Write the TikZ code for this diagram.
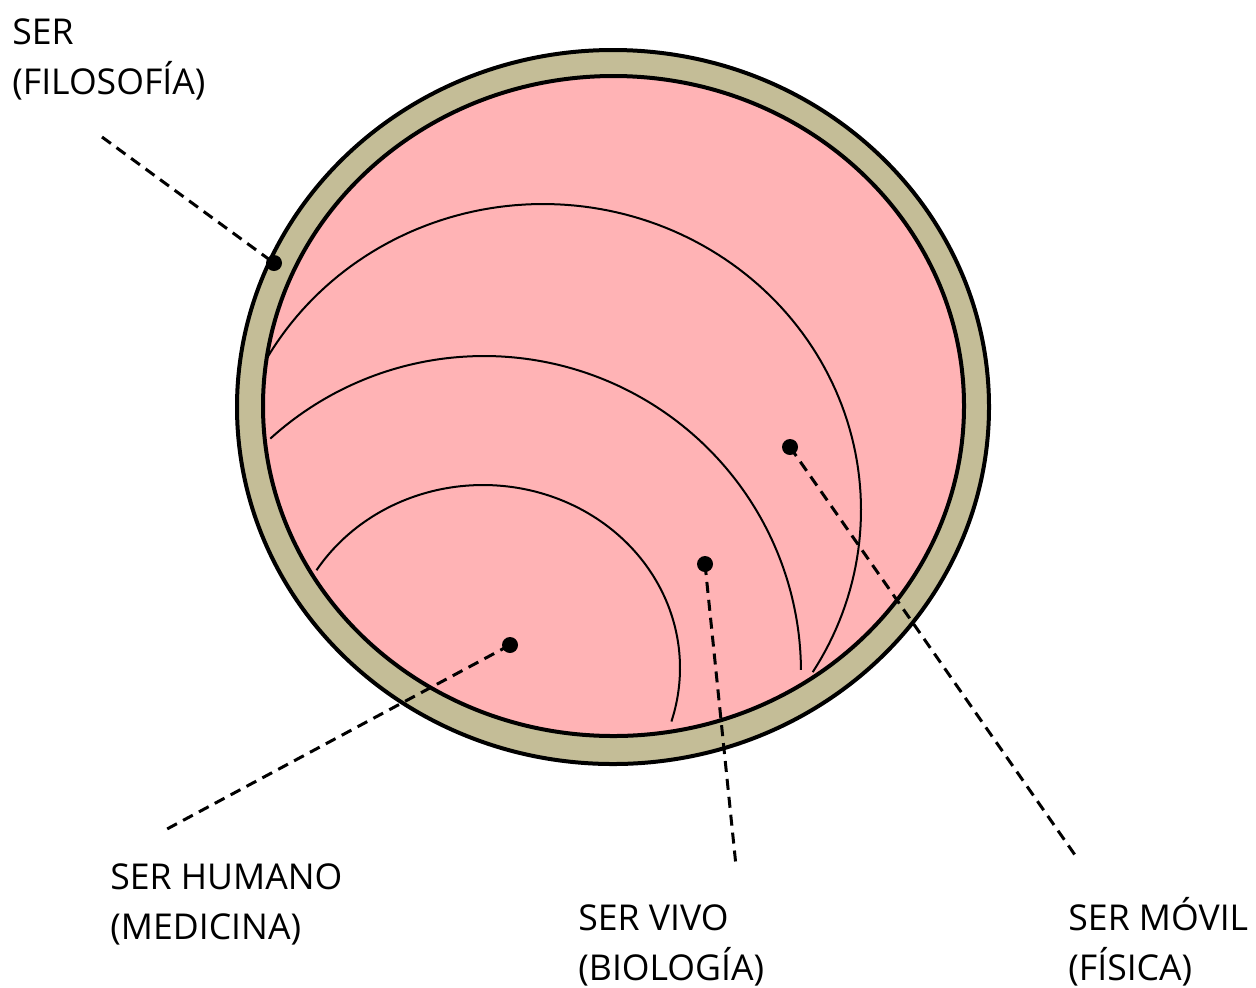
\documentclass[tikz,border=0pt]{standalone}
\usepackage{fontspec}
\setmainfont{Open Sans}
\definecolor{tanc}{RGB}{196,189,151}
\definecolor{pinkc}{RGB}{255,179,181}
\begin{document}
\begin{tikzpicture}[x=0.5pt,y=-0.5pt,
  ring/.style={draw=black, line width=2pt, fill=tanc},
  field/.style={draw=black, line width=2pt, fill=pinkc},
  band/.style={line width=1pt},
  leader/.style={line width=1.5pt, dash pattern=on 5.5pt off 3.5pt},
  blackdot/.style={circle, fill=black, inner sep=0pt, minimum size=8pt},
  lbl/.style={anchor=north west, inner sep=0pt, align=left, font=\fontsize{17.8}{25}\selectfont}]
\useasboundingbox (0,0) rectangle (1256,987);
% rings
\path[ring] (613,407) ellipse [x radius=188pt, y radius=178.5pt];
\path[field] (613.5,406) ellipse [x radius=175.25pt, y radius=165pt];
% bands
\draw[band] plot[domain=-32:150, samples=120] ({543+318*cos(\x)},{510-306*sin(\x)});
\draw[band] plot[domain=0.4:132.4, samples=120] ({484+317*cos(\x)},{672-316*sin(\x)});
\draw[band] plot[domain=-17:147.7, samples=120] ({483+197*cos(\x)},{668-183*sin(\x)});
% dots
\node[blackdot] (dphil) at (274,263) {};
\node[blackdot] (dmov) at (790,447) {};
\node[blackdot] (dviv) at (705,564) {};
\node[blackdot] (dhum) at (510,645) {};
% leader ends
\coordinate (ephil) at (102,137);
\coordinate (emov) at (1075,855);
\coordinate (eviv) at (736,866);
\coordinate (ehum) at (167,829);
\draw[leader] (ephil) -- (dphil.center);
\draw[leader] (dmov.center) -- (emov);
\draw[leader] (dviv.center) -- (eviv);
\draw[leader] (dhum.center) -- (ehum);
% labels
\node[lbl] (tphil) at (12,18) {SER\\(FILOSOFÍA)};
\node[lbl] (thum) at (110,863) {SER HUMANO\\(MEDICINA)};
\node[lbl] (tviv) at (578,904) {SER VIVO\\(BIOLOGÍA)};
\node[lbl] (tmov) at (1068,897) {SER MÓVIL\\(FÍSICA)};
\end{tikzpicture}
\end{document}
